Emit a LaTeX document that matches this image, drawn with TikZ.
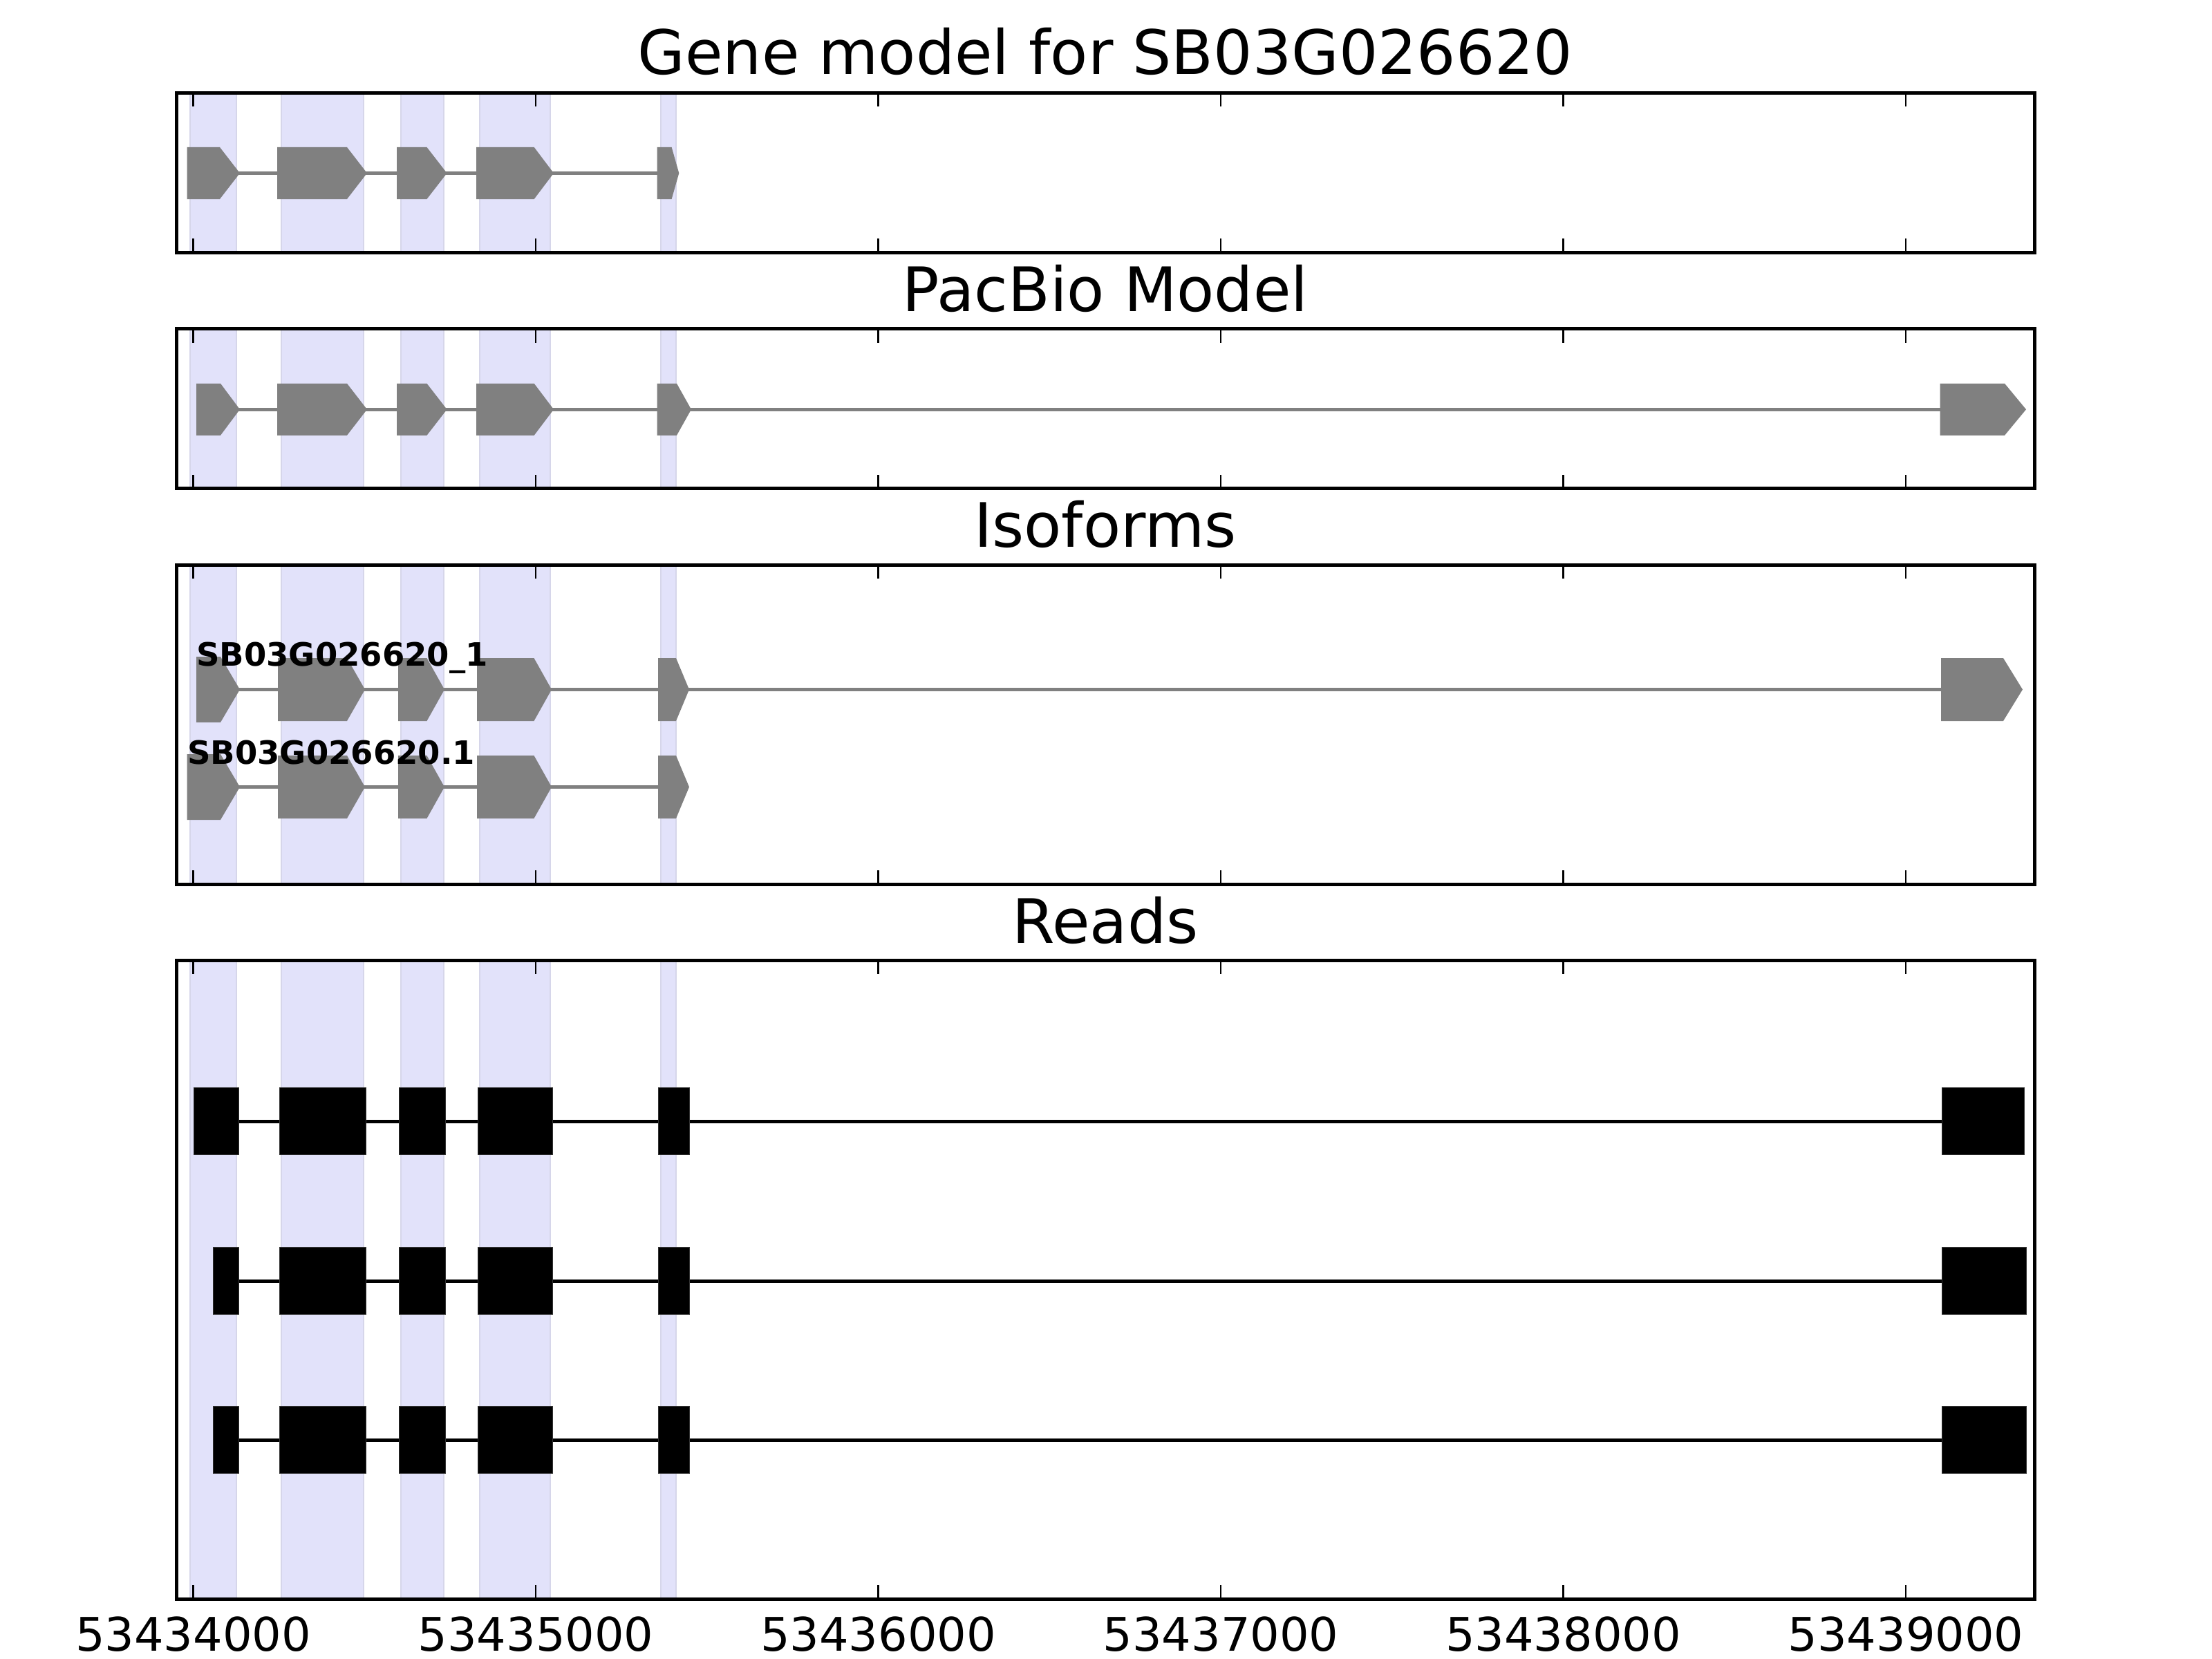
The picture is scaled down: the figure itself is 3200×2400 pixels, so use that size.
\documentclass[tikz,border=0pt]{standalone}
\usepackage{fontspec}
\setmainfont{DejaVu Sans}
\definecolor{exongrey}{RGB}{128,128,128}
\definecolor{bandfill}{RGB}{226,226,250}
\definecolor{bandedge}{RGB}{214,214,234}
\tikzset{
  axframe/.style={draw=black, line width=5pt},
  tickmark/.style={draw=black, line width=2.5pt},
  intron/.style={draw=exongrey, line width=5pt},
  readline/.style={draw=black, line width=5pt},
  readexon/.style={fill=black, draw=black!80, line width=1pt},
  paneltitle/.style={anchor=base, inner sep=0pt, font=\fontsize{88.6}{100}\selectfont},
  ticklabel/.style={anchor=base, inner sep=0pt, font=\fontsize{67}{80}\selectfont},
  isolabel/.style={anchor=base west, inner sep=0pt, font=\fontsize{46.5}{54}\selectfont\bfseries},
}
% pentagon exon: x1, xa, x2, yc, half height
\newcommand\gexon[5]{%
  \fill[exongrey] (#1,#4-#5) -- (#2,#4-#5) -- (#3,#4) -- (#2,#4+#5) -- (#1,#4+#5) -- cycle;}
% read exon: x1, x2, yc, half height
\newcommand\rexon[4]{%
  \path[readexon] (#1,#3-#4) rectangle (#2,#3+#4);}
\begin{document}
\begin{tikzpicture}[x=1pt,y=-1pt]
\useasboundingbox (0,0) rectangle (3200,2400);
\fill[white] (0,0) rectangle (3200,2400);

% shaded bands
\foreach \t/\b in {134.4/365.4, 475.7/706.7, 817/1279, 1389/2313} {
  \foreach \xa/\xb in {275/342, 407/526, 580/642, 694/796, 956/978} {
    \fill[bandfill] (\xa,\t) rectangle (\xb,\b);
    \draw[bandedge, line width=2.5pt] (\xa,\t) -- (\xa,\b) (\xb,\t) -- (\xb,\b);
  }
}

% Panel 1: gene model
\draw[intron] (300,250.5) -- (960,250.5);
\gexon{270.6}{318}{347}{250.5}{37.5}
\gexon{401}{502}{531}{250.5}{37.5}
\gexon{574}{617.5}{646.6}{250.5}{37.5}
\gexon{689}{772.7}{801}{250.5}{37.5}
\gexon{950.7}{971.6}{982.3}{250.5}{37.5}

% Panel 2: PacBio
\draw[intron] (300,592.3) -- (2820,592.3);
\gexon{284}{319}{347}{592.3}{37.5}
\gexon{401}{502}{531}{592.3}{37.5}
\gexon{574}{617.5}{646.6}{592.3}{37.5}
\gexon{689}{772.7}{801}{592.3}{37.5}
\gexon{950.7}{979}{1000}{592.3}{37.5}
\gexon{2806.7}{2900}{2931}{592.3}{37.5}

% Panel 3: isoforms
\draw[intron] (300,997.5) -- (2820,997.5);
\gexon{284}{319}{347}{997.5}{47.5}
\gexon{402}{502}{528}{997.5}{45.5}
\gexon{576}{617.5}{643}{997.5}{45.5}
\gexon{690}{772.5}{798}{997.5}{45.5}
\gexon{952}{978}{997}{997.5}{45.5}
\gexon{2808}{2898}{2926}{997.5}{45.5}
\draw[intron] (300,1138.5) -- (960,1138.5);
\gexon{270.6}{319}{347}{1138.5}{47.5}
\gexon{402}{502}{528}{1138.5}{45.5}
\gexon{576}{617.5}{643}{1138.5}{45.5}
\gexon{690}{772.5}{798}{1138.5}{45.5}
\gexon{952}{978}{997}{1138.5}{45.5}
\node[isolabel] (iso1) at (284,963) {SB03G026620\_1};
\node[isolabel] (iso2) at (271,1105) {SB03G026620.1};

% Panel 4: reads
\draw[readline] (281,1622) -- (2928,1622);
\rexon{280.8}{345.6}{1622}{48.5}
\rexon{404}{529.3}{1622}{48.5}
\rexon{577.8}{644.6}{1622}{48.5}
\rexon{691.5}{799.7}{1622}{48.5}
\rexon{952.7}{997.6}{1622}{48.5}
\rexon{2809}{2928}{1622}{48.5}
\foreach \yc in {1853, 2083} {
  \draw[readline] (308,\yc) -- (2931,\yc);
  \rexon{308}{345.6}{\yc}{48.5}
  \rexon{404}{529.3}{\yc}{48.5}
  \rexon{577.8}{644.6}{\yc}{48.5}
  \rexon{691.5}{799.7}{\yc}{48.5}
  \rexon{952.7}{997.6}{\yc}{48.5}
  \rexon{2809}{2931}{\yc}{48.5}
}

% frames and ticks
\foreach \t/\b in {134.4/365.4, 475.7/706.7, 817/1279, 1389/2313} {
  \foreach \k in {0,...,5} {
    \pgfmathsetmacro\tx{279.6+495.5*\k}
    \draw[tickmark] (\tx,\t) -- (\tx,\t+20);
    \draw[tickmark] (\tx,\b) -- (\tx,\b-20);
  }
  \draw[axframe] (255,\t) rectangle (2943,\b);
}

% tick labels
\foreach \k/\lab in {0/53434000, 1/53435000, 2/53436000, 3/53437000, 4/53438000, 5/53439000} {
  \pgfmathsetmacro\tx{279.6+495.5*\k}
  \node[ticklabel] (xl\k) at (\tx,2388) {\lab};
}

% titles
\node[paneltitle] (title1) at (1599,108) {Gene model for SB03G026620};
\node[paneltitle] (title2) at (1599,450) {PacBio Model};
\node[paneltitle] (title3) at (1599,791) {Isoforms};
\node[paneltitle] (title4) at (1599,1364) {Reads};
\end{tikzpicture}
\end{document}
